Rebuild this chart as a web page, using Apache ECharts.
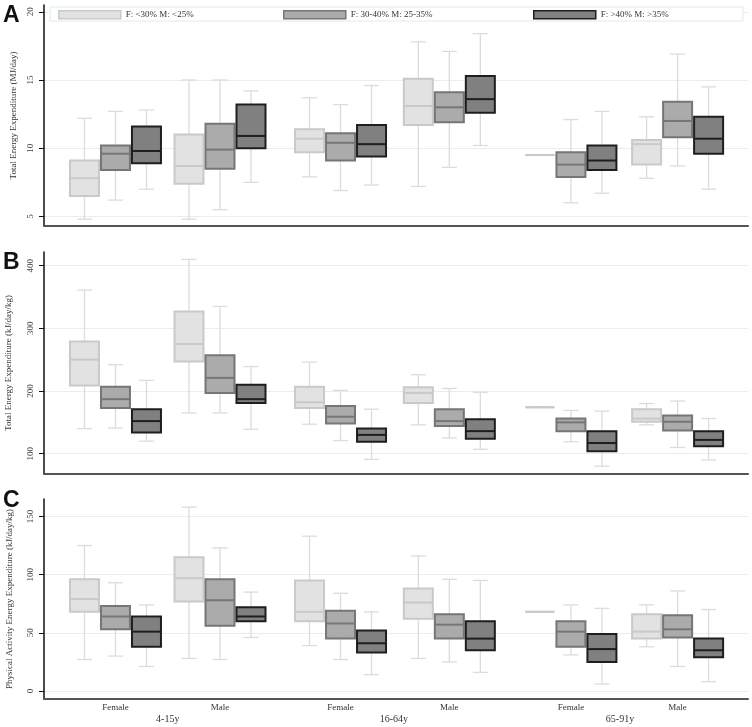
<!DOCTYPE html>
<html>
<head>
<meta charset="utf-8">
<script src="https://cdn.jsdelivr.net/npm/echarts@6/dist/echarts.min.js"></script>
<style>
  html, body { margin: 0; padding: 0; background: #fff; }
  #chart { width: 752px; height: 727px; }
</style>
</head>
<body>
<div id="chart"></div>
<script>
// groups: Female/Male within each age band
var sexes = ['Female', 'Male'];
var ages = ['4-15y', '16-64y', '65-91y'];
var seriesNames = ['F: <30% M: <25%', 'F: 30-40% M: 25-35%', 'F: >40% M: >35%'];

// each box: [low, q1, median, q3, high], one per group (F 4-15, M 4-15, F 16-64, M 16-64, F 65-91, M 65-91)
var teeLow = [[4.8, 6.5, 7.8, 9.1, 12.2], [4.8, 7.4, 8.7, 11.0, 15.0], [7.9, 9.7, 10.7, 11.4, 13.7],
              [7.2, 11.7, 13.1, 15.1, 17.8], [9.5, 9.5, 9.5, 9.5, 9.5], [7.8, 8.8, 10.3, 10.6, 12.3]];
var teeMid = [[6.2, 8.4, 9.6, 10.2, 12.7], [5.5, 8.5, 9.9, 11.8, 15.0], [6.9, 9.1, 10.4, 11.1, 13.2],
              [8.6, 11.9, 13.0, 14.1, 17.1], [6.0, 7.9, 8.8, 9.7, 12.1], [8.7, 10.8, 12.0, 13.4, 16.9]];
var teeHigh = [[7.0, 8.9, 9.8, 11.6, 12.8], [7.5, 10.0, 10.9, 13.2, 14.2], [7.3, 9.4, 10.3, 11.7, 14.6],
               [10.2, 12.6, 13.6, 15.3, 18.4], [6.7, 8.4, 9.1, 10.2, 12.7], [7.0, 9.6, 10.7, 12.3, 14.5]];

var teekgLow = [[140, 209, 250, 279, 361], [165, 247, 275, 327, 410], [147, 173, 182, 207, 246],
                [146, 181, 197, 206, 226], [174, 174, 174, 174, 174], [146, 151, 156, 171, 180]];
var teekgMid = [[141, 173, 187, 207, 242], [165, 197, 221, 257, 335], [121, 148, 159, 176, 201],
                [125, 144, 152, 171, 204], [119, 136, 150, 156, 169], [110, 137, 151, 161, 184]];
var teekgHigh = [[120, 134, 152, 171, 217], [139, 181, 187, 210, 239], [91, 119, 130, 140, 171],
                 [107, 124, 136, 155, 198], [80, 104, 117, 136, 168], [90, 112, 122, 136, 156]];

var paeeLow = [[27, 68, 79, 96, 125], [28, 77, 97, 115, 158], [39, 60, 68, 95, 133],
               [28, 62, 76, 88, 116], [68, 68, 68, 68, 68], [38, 45, 51, 66, 74]];
var paeeMid = [[30, 53, 64, 73, 93], [27, 56, 78, 96, 123], [27, 45, 58, 69, 84],
               [25, 45, 57, 66, 96], [31, 38, 51, 60, 74], [21, 46, 53, 65, 86]];
var paeeHigh = [[21, 38, 51, 64, 74], [46, 60, 64, 72, 85], [14, 33, 41, 52, 68],
                [16, 35, 45, 60, 95], [6, 25, 36, 49, 71], [8, 29, 35, 45, 70]];

// layout: where each group sits on the x scale
var groupPos = [0.67, 1.65, 2.78, 3.8, 4.94, 5.94];
var agePos = [1.16, 3.28, 5.4];
var legendLeft = [58, 283, 533];

var fills = ['#e2e2e2', '#ababab', '#808080'];
var borders = ['#c9c9c9', '#767676', '#1e1e1e'];
var offsets = [-31, 0, 31];
var serif = 'Liberation Serif';

function toRows(boxes) {
  return boxes.map(function (b, i) {
    return [groupPos[i]].concat(b);
  });
}

function boxRenderer(k) {
  return function (params, api) {
    var x = api.value(0);
    var cx = api.coord([x, 0])[0] + offsets[k];
    var y = [1, 2, 3, 4, 5].map(function (d) { return api.coord([x, api.value(d)])[1]; });
    var wh = { stroke: '#dcdcdc', lineWidth: 1.3 };
    var half = 14.5, cap = 7.5;
    return {
      type: 'group',
      children: [
        { type: 'line', shape: { x1: cx, y1: y[4], x2: cx, y2: y[3] }, style: wh },
        { type: 'line', shape: { x1: cx, y1: y[1], x2: cx, y2: y[0] }, style: wh },
        { type: 'line', shape: { x1: cx - cap, y1: y[4], x2: cx + cap, y2: y[4] }, style: wh },
        { type: 'line', shape: { x1: cx - cap, y1: y[0], x2: cx + cap, y2: y[0] }, style: wh },
        { type: 'rect', shape: { x: cx - half, y: y[3], width: half * 2, height: y[1] - y[3] },
          style: { fill: fills[k], stroke: borders[k], lineWidth: 2 } },
        { type: 'line', shape: { x1: cx - half, y1: y[2], x2: cx + half, y2: y[2] },
          style: { stroke: borders[k], lineWidth: 2 } }
      ]
    };
  };
}

var chart = echarts.init(document.getElementById('chart'));

var grids = [
  { left: 44, right: 4, top: 5, height: 221, outerBoundsMode: 'none' },
  { left: 44, right: 4, top: 252, height: 222, outerBoundsMode: 'none' },
  { left: 44, right: 4, top: 499, height: 200, outerBoundsMode: 'none' }
];

function xAxisFor(gi) {
  return {
    type: 'value', gridIndex: gi, min: 0, max: 6.6,
    axisLine: { show: true, onZero: false, lineStyle: { color: '#555', width: 2 } },
    axisTick: { show: false },
    axisLabel: gi === 2 ? {
      show: true, customValues: groupPos, margin: 4,
      fontFamily: serif, fontSize: 9, color: '#333',
      formatter: function (v) { return sexes[groupPos.indexOf(v) % 2]; }
    } : { show: false },
    splitLine: { show: false }
  };
}

function yAxisFor(gi, min, max, ticks, name, gap) {
  return {
    type: 'value', gridIndex: gi, min: min, max: max,
    name: name, nameLocation: 'middle', nameGap: gap,
    nameTextStyle: { fontFamily: serif, fontSize: 9, color: '#333' },
    axisLine: { show: true, lineStyle: { color: '#111', width: 1.5 } },
    axisTick: { show: true, customValues: ticks, length: 5, lineStyle: { color: '#111' } },
    axisLabel: { customValues: ticks, rotate: 90, margin: 9, fontFamily: serif, fontSize: 9, color: '#444' },
    splitLine: { show: true, lineStyle: { color: '#e3f0f0', width: 1.2 } }
  };
}

var panels = [[teeLow, teeMid, teeHigh], [teekgLow, teekgMid, teekgHigh], [paeeLow, paeeMid, paeeHigh]];
var series = [];
panels.forEach(function (sets, gi) {
  sets.forEach(function (boxes, k) {
    series.push({
      name: seriesNames[k],
      type: 'custom',
      xAxisIndex: gi, yAxisIndex: gi,
      itemStyle: { color: fills[k], borderColor: borders[k], borderWidth: 2 },
      renderItem: boxRenderer(k),
      encode: { x: 0, y: [1, 2, 3, 4, 5] },
      data: toRows(boxes),
      animation: false
    });
  });
});

var xAxes = [xAxisFor(0), xAxisFor(1), xAxisFor(2)];
// age band labels under the sex labels
xAxes.push({
  type: 'value', gridIndex: 2, min: 0, max: 6.6, position: 'bottom',
  axisLine: { show: false }, axisTick: { show: false }, splitLine: { show: false },
  axisLabel: {
    customValues: agePos, margin: 15, fontFamily: serif, fontSize: 10, color: '#333',
    formatter: function (v) { return ages[agePos.indexOf(v)]; }
  }
});

// one legend per item so each sits where the original puts it
var legends = seriesNames.map(function (n, k) {
  return {
    left: legendLeft[k], top: 10, itemWidth: 62, itemHeight: 8, itemGap: 9, z: 5,
    icon: 'rect', padding: 0,
    textStyle: { fontFamily: serif, fontSize: 9, color: '#333' },
    data: [{ name: n, itemStyle: { color: fills[k], borderColor: borders[k], borderWidth: 1.5 } }]
  };
});

var option = {
  backgroundColor: '#fff',
  animation: false,
  grid: grids,
  xAxis: xAxes,
  yAxis: [
    yAxisFor(0, 4.3, 20.5, [5, 10, 15, 20], 'Total Energy Expenditure (MJ/day)', 24),
    yAxisFor(1, 67.6, 421.8, [100, 200, 300, 400], 'Total Energy Expenditure (kJ/day/kg)', 31),
    yAxisFor(2, -6.9, 165, [0, 50, 100, 150], 'Physical Activity Energy Expenditure (kJ/day/kg)', 30)
  ],
  legend: legends,
  graphic: [
    { type: 'rect', z: 4, shape: { x: 50, y: 7, width: 693, height: 14 },
      style: { fill: '#fff', stroke: '#dbeeee', lineWidth: 1 } },
    { type: 'text', left: 3, top: 4, z: 10,
      style: { text: 'A', font: 'bold 23px "Liberation Sans"', fill: '#111' } },
    { type: 'text', left: 3, top: 251, z: 10,
      style: { text: 'B', font: 'bold 23px "Liberation Sans"', fill: '#111' } },
    { type: 'text', left: 3, top: 489, z: 10,
      style: { text: 'C', font: 'bold 23px "Liberation Sans"', fill: '#111' } }
  ],
  series: series
};

chart.setOption(option);
</script>
</body>
</html>
